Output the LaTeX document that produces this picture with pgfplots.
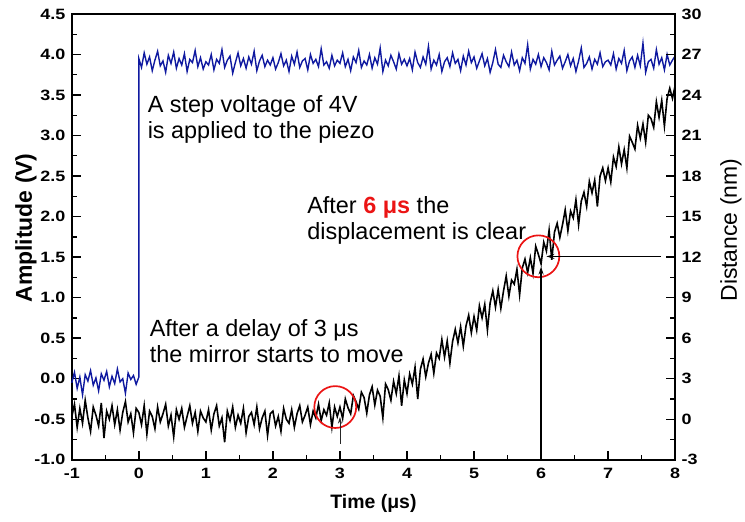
\documentclass[border=0pt]{standalone}
\usepackage{fontspec}
\setmainfont{Liberation Sans}
\newfontfamily\tickfont[FakeStretch=1.2]{Liberation Sans}
\usepackage{pgfplots}
\usepackage{pgfplotstable}
\pgfplotsset{compat=1.18}
\usetikzlibrary{arrows.meta}
\definecolor{vblue}{RGB}{15,25,160}
\definecolor{cred}{RGB}{235,20,20}

\pgfplotstableread{
x v d
-1.00 -0.05 0.2
-0.96 0.08 1.1
-0.92 -0.12 -0.6
-0.88 0.02 0.8
-0.84 -0.20 -0.3
-0.80 0.05 1.4
-0.76 -0.03 0.1
-0.72 0.10 -0.9
-0.68 -0.08 0.9
-0.64 0.01 0.3
-0.60 -0.15 -0.5
-0.56 0.06 1.2
-0.52 -0.02 -1.4
-0.48 0.09 0.6
-0.44 -0.10 0.0
-0.40 0.03 1.0
-0.36 -0.06 -0.4
-0.32 0.12 0.7
-0.28 -0.04 -0.8
-0.24 0.00 0.5
-0.20 -0.18 1.3
-0.16 0.07 -0.2
-0.12 -0.01 0.4
-0.08 0.04 -1.0
-0.04 -0.07 0.8
0.00 0.02 0.5
0.00 3.95 0.5
0.04 3.84 -0.4
0.08 4.02 1.0
0.12 3.88 -1.1
0.16 3.97 0.6
0.20 3.80 0.2
0.24 3.93 -0.7
0.28 4.04 0.9
0.32 3.86 -0.2
0.36 3.92 0.4
0.40 3.78 1.1
0.44 3.99 -0.5
0.48 3.89 0.3
0.52 4.03 -1.3
0.56 3.83 0.7
0.60 3.95 0.0
0.64 3.87 0.8
0.68 4.01 -0.6
0.72 3.79 0.2
0.76 3.94 1.0
0.80 3.90 -0.3
0.84 4.05 0.5
0.88 3.85 -0.9
0.92 3.96 0.6
0.96 3.82 0.1
1.00 3.91 -0.2
1.04 3.87 0.7
1.08 4.00 -0.8
1.12 3.81 0.4
1.16 3.94 1.0
1.20 3.89 -0.5
1.24 4.06 0.1
1.28 3.84 -1.7
1.32 3.93 0.6
1.36 3.98 -0.1
1.40 3.77 0.9
1.44 3.90 -0.6
1.48 4.02 0.3
1.52 3.86 -0.3
1.56 3.95 0.8
1.60 3.83 -1.0
1.64 3.97 0.2
1.68 3.88 0.5
1.72 4.04 -0.4
1.76 3.80 0.9
1.80 3.92 -0.7
1.84 3.99 0.1
1.88 3.85 0.6
1.92 3.93 -1.2
1.96 3.87 0.4
2.00 3.96 0.6
2.04 3.82 -0.5
2.08 3.90 0.2
2.12 4.01 -0.9
2.16 3.86 0.8
2.20 3.93 0.0
2.24 3.79 -0.3
2.28 3.98 0.7
2.32 3.88 -0.6
2.36 4.03 0.4
2.40 3.84 1.0
2.44 3.92 -0.2
2.48 3.95 0.3
2.52 3.81 0.9
2.56 4.00 -0.4
2.60 3.89 0.6
2.64 3.94 0.1
2.68 3.85 1.1
2.72 4.07 -0.1
2.76 3.87 0.7
2.80 3.91 0.3
2.84 3.83 1.2
2.88 3.99 -0.6
2.92 3.86 0.9
2.96 3.93 0.2
3.00 3.89 0.9
3.04 4.02 0.05
3.08 3.85 1.5
3.12 3.94 0.85
3.16 3.80 0.4
3.20 3.97 1.75
3.24 3.90 1.3
3.28 4.05 0.75
3.32 3.84 2.0
3.36 3.92 1.6
3.40 3.87 0.45
3.44 4.00 1.8
3.48 3.83 2.4
3.52 3.96 1.05
3.56 3.88 2.15
3.60 4.08 1.7
3.64 3.79 0.1
3.68 3.93 2.6
3.72 3.86 2.2
3.76 3.99 1.4
3.80 3.91 2.8
3.84 3.82 1.9
3.88 4.01 3.2
3.92 3.88 1.0
3.96 3.94 2.9
4.00 3.86 1.9
4.04 3.95 3.35
4.08 3.81 2.6
4.12 4.03 3.85
4.16 3.90 1.5
4.20 3.84 3.7
4.24 3.97 4.45
4.28 3.88 3.15
4.32 4.10 4.15
4.36 3.82 4.8
4.40 3.93 3.4
4.44 3.87 4.9
4.48 4.00 4.5
4.52 3.79 5.9
4.56 3.91 4.6
4.60 3.96 5.8
4.64 3.85 4.15
4.68 4.02 5.75
4.72 3.89 6.65
4.76 3.94 5.65
4.80 3.80 6.85
4.84 3.98 5.4
4.88 3.87 6.9
4.92 4.04 7.7
4.96 3.90 6.4
5.00 3.97 7.6
5.04 3.83 6.6
5.08 3.92 8.4
5.12 4.01 7.5
5.16 3.86 8.5
5.20 3.95 6.6
5.24 3.78 8.6
5.28 3.90 9.5
5.32 4.06 8.3
5.36 3.88 9.6
5.40 3.84 8.2
5.44 3.99 9.5
5.48 3.91 10.6
5.52 3.85 9.1
5.56 4.03 10.3
5.60 3.87 10.0
5.64 3.93 11.1
5.68 3.80 9.2
5.72 3.96 11.2
5.76 3.89 11.85
5.80 4.12 10.85
5.84 3.82 11.95
5.88 3.94 10.8
5.92 3.88 12.8
5.96 4.00 12.2
6.00 3.85 11.5
6.04 3.96 13.1
6.08 3.90 12.45
6.12 3.81 14.0
6.16 4.04 11.8
6.20 3.87 13.85
6.24 3.93 14.5
6.28 3.98 13.45
6.32 3.83 14.4
6.36 3.91 15.5
6.40 4.00 13.95
6.44 3.86 15.4
6.48 3.95 14.9
6.52 3.79 16.25
6.56 3.92 14.4
6.60 4.08 16.15
6.64 3.84 16.8
6.68 3.89 15.75
6.72 3.97 17.6
6.76 3.82 16.75
6.80 3.94 17.7
6.84 3.88 15.75
6.88 4.02 18.0
6.92 3.85 18.6
6.96 3.91 17.65
7.00 3.93 18.6
7.04 3.87 17.55
7.08 4.01 19.4
7.12 3.82 18.7
7.16 3.95 20.15
7.20 3.89 18.9
7.24 4.05 19.95
7.28 3.80 18.6
7.32 3.92 20.95
7.36 3.97 20.5
7.40 3.84 20.0
7.44 3.99 21.75
7.48 3.86 20.8
7.52 4.14 21.85
7.56 3.78 20.5
7.60 3.91 22.5
7.64 3.94 22.25
7.68 3.83 21.6
7.72 4.06 23.5
7.76 3.88 22.35
7.80 3.96 23.6
7.84 3.81 21.7
7.88 4.00 23.75
7.92 3.87 24.5
7.96 3.93 23.75
8.00 3.98 24.7
}\datatable

\begin{document}
\begin{tikzpicture}
\pgfplotsset{
  common/.style={
    width=605pt, height=447pt, scale only axis,
    xmin=-1, xmax=8,
    tick align=inside,
    major tick length=9pt, minor tick length=5pt,
    every tick/.style={black, line width=1.4pt},
    axis line style={line width=1.7pt},
    ticklabel style={font=\tickfont\bfseries\fontsize{15}{15}\selectfont},
    /pgf/number format/assume math mode=true,
    clip=false,
  }
}
\begin{axis}[common,
  ymin=-1, ymax=4.5,
  xtick={-1,0,1,2,3,4,5,6,7,8}, minor x tick num=1,
  ytick={-1,-0.5,0,0.5,1,1.5,2,2.5,3,3.5,4,4.5}, minor y tick num=1,
  xtick pos=left, ytick pos=left,
  yticklabel style={/pgf/number format/fixed, /pgf/number format/fixed zerofill, /pgf/number format/precision=1, xshift=-3pt},
  xticklabel style={yshift=-5pt},
]
\addplot[vblue, line width=1.4pt, sharp plot] table[x=x, y=v]{\datatable};
\end{axis}
\begin{axis}[common,
  ymin=-3, ymax=30,
  axis x line=none, axis y line*=right,
  ytick={-3,0,3,6,9,12,15,18,21,24,27,30}, minor y tick num=1,
  ytick pos=right,
  yticklabel style={xshift=3pt},
]
\addplot[black, line width=1.6pt, sharp plot] table[x=x, y=d]{\datatable};
\draw[cred, line width=1.7pt] (axis cs:2.93,0.9) circle[radius=21pt];
\draw[cred, line width=1.7pt] (axis cs:5.96,12.06) circle[radius=21pt];
\draw[-{Stealth[length=7pt,width=4pt]}, black!85, line width=0.8pt] (axis cs:3,-1.8) -- (axis cs:3,0.18);
\draw[-{Stealth[length=8pt,width=5pt]}, black, line width=1.6pt] (axis cs:6,-3) -- (axis cs:6,11.3);
\draw[-{Stealth[length=8pt,width=5pt]}, black, line width=1.6pt] (axis cs:7.79,12.05) -- (axis cs:6.08,12.05);
\node[anchor=north west, inner sep=0pt, align=left, font=\fontsize{23.5}{26.5}\selectfont] at (axis cs:0.13,24.0) {A step voltage of 4V\\is applied to the piezo};
\node[anchor=north west, inner sep=0pt, align=left, font=\fontsize{23.5}{26.5}\selectfont] at (axis cs:2.51,16.5) {After {\color{cred}\bfseries 6 μs} the\\displacement is clear};
\node[anchor=north west, inner sep=0pt, align=left, font=\fontsize{23.5}{26.5}\selectfont] at (axis cs:0.16,7.42) {After a delay of 3 μs\\the mirror starts to move};
\node[rotate=90, font=\bfseries\fontsize{23}{23}\selectfont] at ([xshift=-46pt]rel axis cs:0,0.52) {Amplitude (V)};
\node[rotate=90, font=\fontsize{23}{23}\selectfont] at ([xshift=56pt]rel axis cs:1,0.515) {Distance (nm)};
\node[font=\bfseries\fontsize{19.5}{19.5}\selectfont] at ([yshift=-44pt]rel axis cs:0.5,0) {Time (μs)};
\path ([xshift=-72pt,yshift=-62pt]rel axis cs:0,0) rectangle ([xshift=68pt,yshift=14pt]rel axis cs:1,1);
\end{axis}
\end{tikzpicture}
\end{document}
